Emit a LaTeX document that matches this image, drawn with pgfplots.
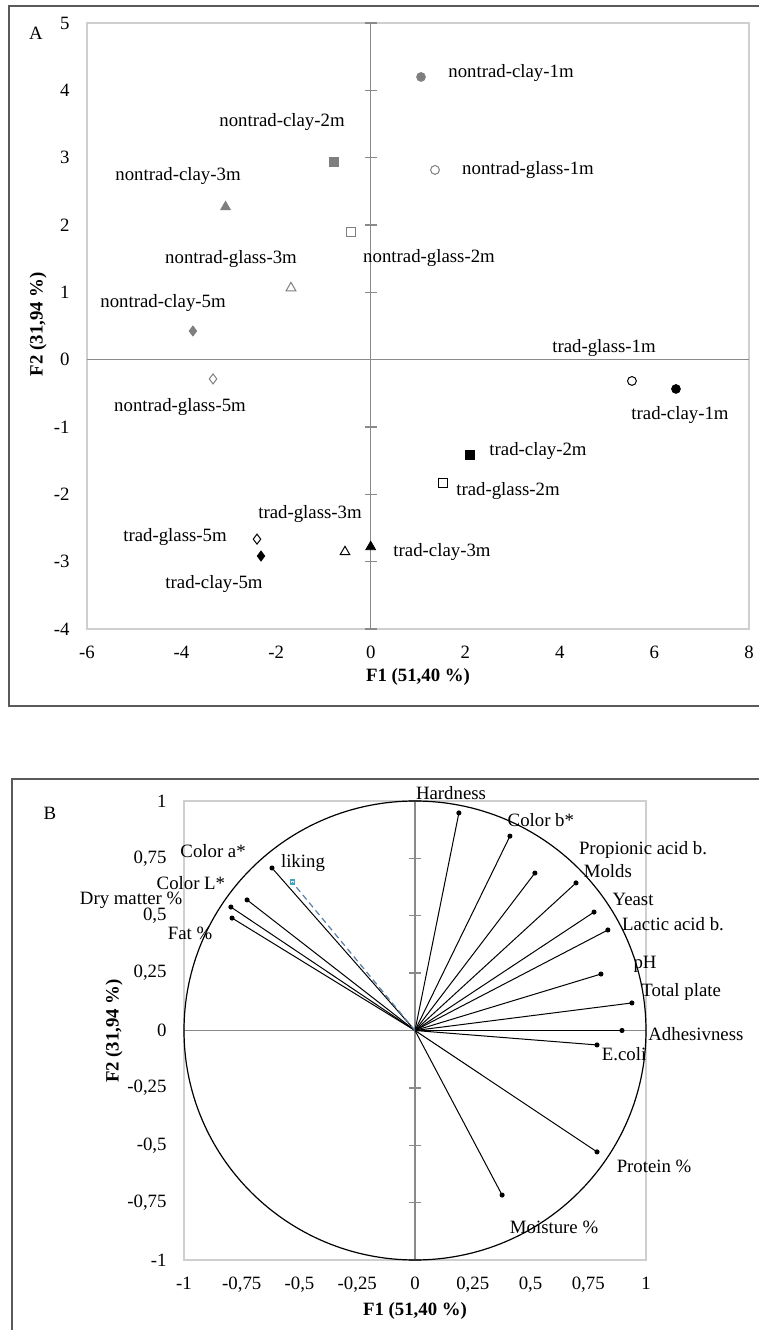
\documentclass[border=0pt]{standalone}
\usepackage{pgfplots}
\pgfplotsset{compat=1.18}
\usepackage{fontspec}
\setmainfont{Liberation Serif}
\definecolor{ntgray}{HTML}{7F7F7F}
\definecolor{axgray}{HTML}{8A8A8A}
\definecolor{boxgray}{HTML}{CFCFCF}
\definecolor{framegray}{HTML}{5A5A5A}
\definecolor{likeblue}{HTML}{5A7FA8}
\pgfplotsset{
  pcastyle/.style={
    scale only axis, clip=false,
    axis line style={boxgray, line width=0.7pt},
    tick style={draw=none}, major tick length=0pt,
    tick label style={font=\fontsize{9.4}{11}\selectfont},
    /pgf/number format/assume math mode=true,
    /pgf/number format/use comma,
    label style={font=\bfseries\fontsize{9.4}{11}\selectfont},
    xticklabel style={yshift=-5pt},
    yticklabel style={xshift=-5.4pt},
  },
  ncl/.style={only marks, mark options={fill=ntgray, draw=ntgray, solid}},
  ngl/.style={only marks, mark options={fill=white, draw=ntgray, line width=0.5pt, solid}},
  tcl/.style={only marks, mark options={fill=black, draw=black, solid}},
  tgl/.style={only marks, mark options={fill=white, draw=black, line width=0.5pt, solid}},
  mc/.style={mark=*, mark size=2.2pt},
  ms/.style={mark=square*, mark size=2.3pt},
  mt/.style={mark=triangle*, mark size=2.8pt},
  md/.style={mark=diamond*, mark size=2.5pt},
  vec/.style={black, line width=0.5pt, mark=*, mark size=1pt, mark indices={2}, mark options={solid}},
}
\begin{document}
\fontsize{9.4}{11}\selectfont
\begin{tikzpicture}
\useasboundingbox (0,0) rectangle (379.5pt,665pt);
\fill[white] (0,0) rectangle (379.5pt,665pt);
\draw[framegray, line width=1pt] (390pt,662pt) -- (4.5pt,662pt) -- (4.5pt,312pt) -- (390pt,312pt);
\draw[framegray, line width=1pt] (390pt,275.5pt) -- (6pt,275.5pt) -- (6pt,-10pt);
\node at (18pt,648.5pt) {A};
\node at (25pt,258.5pt) {B};

% ---------------- Panel A ----------------
\begin{axis}[pcastyle,
  at={(43.5pt,350.5pt)}, anchor=south west,
  width=331pt, height=303pt,
  xmin=-6, xmax=8, ymin=-4, ymax=5,
  xtick={-6,-4,-2,0,2,4,6,8}, ytick={-4,-3,-2,-1,0,1,2,3,4,5},
  xlabel={F1 (51,40 \%)}, ylabel={F2 (31,94 \%)},
  xlabel style={at={(axis description cs:0.5,-0.079)}, anchor=center},
  ylabel style={at={(axis description cs:-0.074,0.503)}, anchor=center},
]
\draw[axgray, line width=0.7pt] (axis cs:-6,0) -- (axis cs:8,0);
\draw[axgray, line width=0.7pt] (axis cs:0,-4) -- (axis cs:0,5);
\pgfplotsinvokeforeach{-4,-3,-2,-1,0,1,2,3,4,5}{
  \draw[axgray, line width=0.7pt] ([xshift=-3pt]axis cs:0,#1) -- ([xshift=3pt]axis cs:0,#1);
}
% nontrad clay (grey filled)
\addplot[ncl, mc] coordinates {(1.064,4.199)};
\addplot[ncl, ms] coordinates {(-0.776,2.936)};
\addplot[ncl, mt] coordinates {(-3.07,2.268)};
\addplot[ncl, md] coordinates {(-3.76,0.426)};
% nontrad glass (grey open)
\addplot[ngl, mc] coordinates {(1.36,2.818)};
\addplot[ngl, ms] coordinates {(-0.417,1.897)};
\addplot[ngl, mt] coordinates {(-1.686,1.065)};
\addplot[ngl, md] coordinates {(-3.335,-0.286)};
% trad clay (black filled)
\addplot[tcl, mc] coordinates {(6.456,-0.435)};
\addplot[tcl, ms] coordinates {(2.10,-1.415)};
\addplot[tcl, mt] coordinates {(0.0,-2.78)};
\addplot[tcl, md] coordinates {(-2.32,-2.917)};
% trad glass (black open)
\addplot[tgl, mc] coordinates {(5.525,-0.316)};
\addplot[tgl, ms] coordinates {(1.53,-1.83)};
\addplot[tgl, mt] coordinates {(-0.544,-2.855)};
\addplot[tgl, md] coordinates {(-2.405,-2.665)};
% labels
\node at (axis cs:2.967,4.258) {nontrad-clay-1m};
\node at (axis cs:3.327,2.818) {nontrad-glass-1m};
\node at (axis cs:-1.876,3.53) {nontrad-clay-2m};
\node at (axis cs:-4.075,2.728) {nontrad-clay-3m};
\node at (axis cs:-2.954,1.496) {nontrad-glass-3m};
\node at (axis cs:1.233,1.51) {nontrad-glass-2m};
\node at (axis cs:-4.392,0.842) {nontrad-clay-5m};
\node at (axis cs:-4.033,-0.703) {nontrad-glass-5m};
\node at (axis cs:4.934,0.174) {trad-glass-1m};
\node at (axis cs:6.541,-0.821) {trad-clay-1m};
\node at (axis cs:3.538,-1.356) {trad-clay-2m};
\node at (axis cs:2.903,-1.95) {trad-glass-2m};
\node at (axis cs:1.508,-2.856) {trad-clay-3m};
\node at (axis cs:-1.284,-2.292) {trad-glass-3m};
\node at (axis cs:-4.139,-2.633) {trad-glass-5m};
\node at (axis cs:-3.314,-3.331) {trad-clay-5m};
\end{axis}

% ---------------- Panel B ----------------
\begin{axis}[pcastyle,
  at={(92pt,35pt)}, anchor=south west,
  width=231pt, height=229.5pt,
  xmin=-1, xmax=1, ymin=-1, ymax=1,
  xtick={-1,-0.75,-0.5,-0.25,0,0.25,0.5,0.75,1},
  ytick={-1,-0.75,-0.5,-0.25,0,0.25,0.5,0.75,1},
  xlabel={F1 (51,40 \%)}, ylabel={F2 (31,94 \%)},
  xlabel style={at={(axis description cs:0.5,-0.111)}, anchor=center},
  ylabel style={at={(axis description cs:-0.1515,0.499)}, anchor=center},
]
\draw[axgray, line width=0.7pt] (axis cs:-1,0) -- (axis cs:1,0);
\draw[axgray, line width=0.7pt] (axis cs:0,-1) -- (axis cs:0,1);
\pgfplotsinvokeforeach{-1,-0.75,-0.5,-0.25,0,0.25,0.5,0.75,1}{
  \draw[axgray, line width=0.7pt] ([xshift=-3pt]axis cs:0,#1) -- ([xshift=3pt]axis cs:0,#1);
}
\draw[black, line width=0.6pt] (axis cs:0,0) ellipse [x radius=115.5pt, y radius=114.75pt];
% variable vectors
\addplot[vec] coordinates {(0,0) (0.19,0.948)};    % Hardness
\addplot[vec] coordinates {(0,0) (0.411,0.847)};   % Color b*
\addplot[vec] coordinates {(0,0) (0.519,0.686)};   % Propionic acid b.
\addplot[vec] coordinates {(0,0) (0.697,0.643)};   % Molds
\addplot[vec] coordinates {(0,0) (0.775,0.516)};   % Yeast
\addplot[vec] coordinates {(0,0) (0.835,0.438)};   % Lactic acid b.
\addplot[vec] coordinates {(0,0) (0.805,0.246)};   % pH
\addplot[vec] coordinates {(0,0) (0.939,0.12)};    % Total plate
\addplot[vec] coordinates {(0,0) (0.896,0.0)};     % Adhesivness
\addplot[vec] coordinates {(0,0) (0.788,-0.063)};  % E.coli
\addplot[vec] coordinates {(0,0) (0.788,-0.529)};  % Protein %
\addplot[vec] coordinates {(0,0) (0.377,-0.717)};  % Moisture %
\addplot[vec] coordinates {(0,0) (-0.619,0.708)};  % Color a*
\addplot[vec] coordinates {(0,0) (-0.727,0.569)};  % Color L*
\addplot[vec] coordinates {(0,0) (-0.797,0.538)};  % Dry matter %
\addplot[vec] coordinates {(0,0) (-0.792,0.49)};   % Fat %
\addplot[likeblue, densely dashed, line width=0.6pt, mark=square, mark size=1pt, mark indices={2}, mark options={solid, draw=likeblue!70!cyan}] coordinates {(0,0) (-0.532,0.647)}; % liking
% labels
\node at (axis cs:0.156,1.035) {Hardness};
\node at (axis cs:0.545,0.917) {Color b*};
\node at (axis cs:0.987,0.786) {Propionic acid b.};
\node at (axis cs:0.835,0.695) {Molds};
\node at (axis cs:0.944,0.569) {Yeast};
\node at (axis cs:1.117,0.464) {Lactic acid b.};
\node at (axis cs:0.996,0.29) {pH};
\node at (axis cs:1.152,0.168) {Total plate};
\node at (axis cs:1.216,-0.015) {Adhesivness};
\node at (axis cs:0.905,-0.102) {E.coli};
\node at (axis cs:1.035,-0.59) {Protein \%};
\node at (axis cs:0.602,-0.856) {Moisture \%};
\node at (axis cs:-0.874,0.782) {Color a*};
\node at (axis cs:-0.485,0.730) {liking};
\node at (axis cs:-0.97,0.643) {Color L*};
\node at (axis cs:-1.229,0.569) {Dry matter \%};
\node at (axis cs:-0.974,0.425) {Fat \%};
\end{axis}
\end{tikzpicture}
\end{document}
